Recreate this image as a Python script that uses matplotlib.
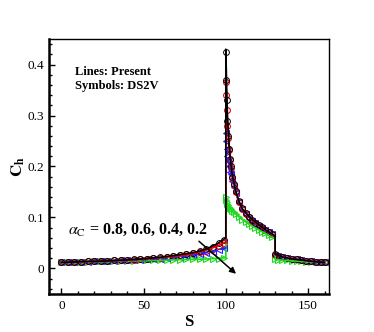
import numpy as np
import matplotlib
matplotlib.use("Agg")
import matplotlib.pyplot as plt
from matplotlib.ticker import MultipleLocator

plt.rcParams['font.family'] = ['Liberation Serif', 'DejaVu Serif']
plt.rcParams['mathtext.fontset'] = 'stix'

# lines (present computation), alpha_C = 0.8, 0.6, 0.4, 0.2
S_line = [0, 10, 20, 30, 40, 50, 60, 70, 80, 85, 90, 95, 100, 100, 100.5, 101, 102, 103,
          104, 106, 108, 110, 115, 120, 125, 130, 130, 135, 140, 145, 150, 155, 160]
ch_08 = [0.012, 0.013, 0.014, 0.015, 0.017, 0.019, 0.022, 0.026, 0.031, 0.035, 0.041, 0.049,
         0.060, 0.430, 0.360, 0.300, 0.240, 0.205, 0.182, 0.152, 0.132, 0.117, 0.099, 0.086,
         0.074, 0.064, 0.028, 0.022, 0.019, 0.017, 0.015, 0.013, 0.012]
ch_06 = [0.012, 0.013, 0.014, 0.015, 0.016, 0.018, 0.021, 0.024, 0.029, 0.033, 0.038, 0.044,
         0.052, 0.370, 0.330, 0.290, 0.235, 0.203, 0.180, 0.150, 0.131, 0.116, 0.098, 0.085,
         0.073, 0.063, 0.027, 0.022, 0.019, 0.017, 0.015, 0.013, 0.012]
ch_04 = [0.012, 0.013, 0.013, 0.014, 0.015, 0.017, 0.019, 0.022, 0.026, 0.029, 0.032, 0.036,
         0.040, 0.270, 0.240, 0.220, 0.200, 0.185, 0.172, 0.148, 0.130, 0.115, 0.098, 0.085,
         0.073, 0.063, 0.027, 0.022, 0.019, 0.017, 0.015, 0.013, 0.012]
ch_02 = [0.012, 0.013, 0.013, 0.014, 0.015, 0.015, 0.016, 0.017, 0.018, 0.018, 0.019, 0.020,
         0.021, 0.145, 0.132, 0.127, 0.121, 0.117, 0.113, 0.107, 0.101, 0.096, 0.085, 0.076,
         0.067, 0.058, 0.018, 0.016, 0.015, 0.014, 0.013, 0.013, 0.012]

# symbols (DS2V)
S_sym = [0, 4, 8, 12, 16, 20, 24, 28, 32, 36, 40, 44, 48, 52, 56, 60, 64, 68, 72, 76, 80, 84,
         88, 92, 96, 99, 100, 100.3, 100.6, 101, 101.5, 102, 102.5, 103, 104, 105, 106, 108,
         110, 112, 114, 116, 118, 120, 122, 124, 126, 128, 130, 132, 134, 137, 140, 143, 146,
         149, 152, 155, 158, 160]
sym_08 = [0.012, 0.012, 0.013, 0.013, 0.014, 0.014, 0.015, 0.015, 0.016, 0.016, 0.017, 0.018,
          0.018, 0.019, 0.020, 0.022, 0.023, 0.025, 0.027, 0.029, 0.031, 0.034, 0.038, 0.043,
          0.050, 0.056, 0.425, 0.370, 0.330, 0.290, 0.260, 0.235, 0.215, 0.200, 0.180, 0.165,
          0.152, 0.132, 0.118, 0.108, 0.101, 0.095, 0.090, 0.085, 0.081, 0.076, 0.072, 0.068,
          0.028, 0.025, 0.023, 0.021, 0.019, 0.018, 0.016, 0.015, 0.014, 0.013, 0.012, 0.012]
sym_06 = [0.012, 0.012, 0.013, 0.013, 0.014, 0.014, 0.015, 0.015, 0.016, 0.016, 0.017, 0.017,
          0.018, 0.019, 0.020, 0.021, 0.022, 0.024, 0.026, 0.028, 0.030, 0.032, 0.035, 0.039,
          0.045, 0.050, 0.365, 0.340, 0.310, 0.280, 0.255, 0.232, 0.213, 0.198, 0.178, 0.163,
          0.150, 0.131, 0.117, 0.107, 0.100, 0.094, 0.089, 0.084, 0.080, 0.075, 0.071, 0.067,
          0.027, 0.025, 0.023, 0.021, 0.019, 0.018, 0.016, 0.015, 0.014, 0.013, 0.012, 0.012]
sym_04 = [0.012, 0.012, 0.013, 0.013, 0.013, 0.014, 0.014, 0.015, 0.015, 0.016, 0.016, 0.017,
          0.017, 0.018, 0.019, 0.019, 0.020, 0.022, 0.023, 0.025, 0.026, 0.028, 0.030, 0.033,
          0.037, 0.040, 0.265, 0.250, 0.235, 0.220, 0.210, 0.200, 0.190, 0.185, 0.172, 0.160,
          0.148, 0.130, 0.116, 0.106, 0.099, 0.094, 0.089, 0.084, 0.080, 0.075, 0.071, 0.067,
          0.027, 0.025, 0.023, 0.021, 0.019, 0.018, 0.016, 0.015, 0.014, 0.013, 0.012, 0.012]
sym_02 = [0.012, 0.012, 0.013, 0.013, 0.013, 0.014, 0.014, 0.014, 0.015, 0.015, 0.015, 0.015,
          0.016, 0.016, 0.016, 0.016, 0.017, 0.017, 0.017, 0.018, 0.018, 0.018, 0.019, 0.019,
          0.019, 0.020, 0.140, 0.135, 0.130, 0.127, 0.124, 0.121, 0.119, 0.117, 0.113, 0.110,
          0.107, 0.101, 0.096, 0.091, 0.087, 0.083, 0.079, 0.076, 0.072, 0.069, 0.065, 0.062,
          0.018, 0.017, 0.016, 0.016, 0.015, 0.014, 0.014, 0.013, 0.013, 0.012, 0.012, 0.012]

fig = plt.figure(figsize=(3.74, 3.32), dpi=100)
ax = fig.add_axes([0.131, 0.1145, 0.749, 0.768])

green = '#1fd81f'
blue = '#2222ff'
red = '#ee0000'

# symbols
ax.plot(S_sym, sym_02, linestyle='none', marker='>', ms=4, mfc='none', mec=green, mew=0.8)
ax.plot(S_sym, sym_04, linestyle='none', marker='<', ms=4, mfc='none', mec=blue, mew=0.8)
ax.plot(S_sym, sym_06, linestyle='none', marker='o', ms=4.2, mfc='none', mec=red, mew=0.8)
ax.plot(S_sym, sym_08, linestyle='none', marker='o', ms=4.2, mfc='none', mec='black', mew=0.7)

# lines
ax.plot(S_line, ch_02, color=green, lw=1.2)
ax.plot(S_line, ch_04, color=blue, lw=1.2, linestyle=(0, (4, 2)))
ax.plot(S_line, ch_06, color=red, lw=1.2)
ax.plot(S_line, ch_08, color='black', lw=1.2)

ax.set_xlim(-7.5, 162.8)
ax.set_ylim(-0.05, 0.45)
ax.xaxis.set_minor_locator(MultipleLocator(10))
ax.yaxis.set_minor_locator(MultipleLocator(0.02))
ax.set_xticks([0, 50, 100, 150])
ax.set_yticks([0, 0.1, 0.2, 0.3, 0.4])
ax.set_yticklabels(['0', '0.1', '0.2', '0.3', '0.4'])
ax.tick_params(which='both', direction='in', top=False, right=False, labelsize=9.5, width=1)
ax.tick_params(which='major', length=4.5)
ax.tick_params(which='minor', length=2.5)
ax.tick_params(axis='x', pad=4)
ax.tick_params(axis='y', pad=3.5)

for side in ['left', 'bottom']:
    ax.spines[side].set_linewidth(1.8)
for side in ['top', 'right']:
    ax.spines[side].set_linewidth(1.0)

ax.set_xlabel('S', fontsize=12, fontweight='bold', labelpad=2)
ax.set_ylabel(r'$\mathbf{C_h}$', fontsize=12, labelpad=0)

ax.text(8.5, 0.386, 'Lines: Present', fontsize=9, fontweight='bold', va='center')
ax.text(8.5, 0.357, 'Symbols: DS2V', fontsize=9, fontweight='bold', va='center')

ax.text(4, 0.076, r'$\alpha_{\mathrm{C}}$ = 0.8, 0.6, 0.4, 0.2', fontsize=11.5,
        fontweight='bold', va='center')
ax.annotate('', xy=(107.5, -0.014), xytext=(82.4, 0.057),
            arrowprops=dict(arrowstyle='-|>', color='black', lw=1.1, mutation_scale=9))

fig.savefig('out.png', dpi=100)
